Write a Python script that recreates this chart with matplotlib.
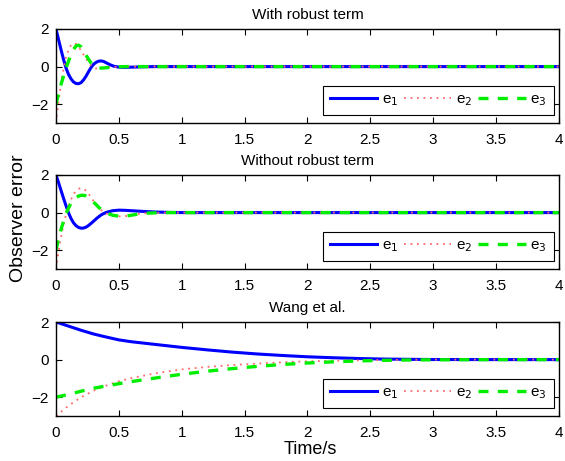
import matplotlib
matplotlib.use("Agg")
import matplotlib.pyplot as plt

plt.rcParams['font.family'] = ['Liberation Sans', 'DejaVu Sans']

# ---- data ----
t1 = [0, 0.02, 0.04, 0.06, 0.08, 0.1, 0.12, 0.14, 0.16, 0.18, 0.2, 0.22, 0.24, 0.26,
      0.28, 0.3, 0.32, 0.34, 0.36, 0.38, 0.4, 0.43, 0.46, 0.5, 0.55, 0.6, 0.7, 0.8, 1.0, 4.0]
e1_robust = [2.0, 1.45, 0.9, 0.38, -0.08, -0.42, -0.66, -0.82, -0.9, -0.91, -0.85, -0.7, -0.5,
             -0.26, -0.04, 0.13, 0.23, 0.29, 0.3, 0.27, 0.2, 0.1, 0.02, -0.03, -0.04, -0.03,
             -0.01, 0, 0, 0]
e2_robust = [-3.0, -1.9, -0.9, -0.1, 0.5, 0.9, 1.15, 1.25, 1.2, 1.05, 0.85, 0.62, 0.4, 0.2,
             0.05, -0.05, -0.1, -0.1, -0.09, -0.07, -0.05, -0.03, -0.02, -0.01, 0, 0, 0, 0, 0, 0]
e3_robust = [-2.0, -1.45, -0.95, -0.5, -0.08, 0.3, 0.65, 0.92, 1.1, 1.14, 1.05, 0.85, 0.6, 0.38,
             0.18, 0.04, -0.04, -0.07, -0.08, -0.07, -0.06, -0.04, -0.02, -0.01, 0, 0, 0, 0, 0, 0]

t2 = [0, 0.02, 0.04, 0.06, 0.08, 0.1, 0.12, 0.14, 0.16, 0.18, 0.2, 0.22, 0.24, 0.26, 0.28,
      0.3, 0.32, 0.34, 0.36, 0.38, 0.4, 0.45, 0.5, 0.55, 0.6, 0.65, 0.7, 0.8, 0.9, 1.0, 4.0]
e1_plain = [2.0, 1.6, 1.18, 0.76, 0.36, -0.02, -0.32, -0.55, -0.7, -0.79, -0.83, -0.82, -0.77,
            -0.68, -0.57, -0.45, -0.33, -0.22, -0.12, -0.05, 0.01, 0.1, 0.13, 0.12, 0.1, 0.08,
            0.06, 0.03, 0.01, 0, 0]
e2_plain = [-3.0, -2.1, -1.3, -0.65, -0.1, 0.35, 0.7, 0.98, 1.16, 1.27, 1.3, 1.27, 1.16, 1.0,
            0.8, 0.6, 0.42, 0.26, 0.13, 0.03, -0.05, -0.16, -0.2, -0.19, -0.14, -0.08, -0.04,
            -0.01, 0, 0, 0]
e3_plain = [-2.0, -1.4, -0.9, -0.45, -0.05, 0.25, 0.5, 0.68, 0.8, 0.88, 0.92, 0.92, 0.88, 0.8,
            0.68, 0.55, 0.42, 0.28, 0.16, 0.06, -0.02, -0.14, -0.19, -0.19, -0.14, -0.08, -0.04,
            -0.01, 0, 0, 0]

t3 = [0, 0.1, 0.2, 0.3, 0.4, 0.5, 0.6, 0.8, 1.0, 1.2, 1.4, 1.6, 1.8, 2.0, 2.2, 2.4, 2.6,
      2.8, 3.0, 3.5, 4.0]
e1_wang = [2.0, 1.78, 1.56, 1.36, 1.2, 1.05, 0.95, 0.8, 0.65, 0.52, 0.4, 0.3, 0.22, 0.15,
           0.1, 0.06, 0.03, 0.015, 0.005, 0, 0]
e2_wang = [-3.0, -2.45, -2.0, -1.65, -1.38, -1.15, -0.98, -0.72, -0.52, -0.39, -0.29, -0.21,
           -0.14, -0.09, -0.06, -0.04, -0.02, -0.01, 0, 0, 0]
e3_wang = [-2.0, -1.85, -1.68, -1.52, -1.4, -1.28, -1.17, -0.97, -0.78, -0.62, -0.48, -0.36,
           -0.26, -0.18, -0.12, -0.07, -0.04, -0.02, -0.01, 0, 0]

titles = ["With robust term", "Without robust term", "Wang et al."]
panels = [(t1, e1_robust, e2_robust, e3_robust),
          (t2, e1_plain, e2_plain, e3_plain),
          (t3, e1_wang, e2_wang, e3_wang)]
xticks = [0, 0.5, 1, 1.5, 2, 2.5, 3, 3.5, 4]
xticklabels = ["0", "0.5", "1", "1.5", "2", "2.5", "3", "3.5", "4"]
yticks = [-2, 0, 2]

fig = plt.figure(figsize=(5.65, 4.61), dpi=100)
bottoms = [0.7332, 0.4165, 0.0976]

for (t, a, b, c), title, bot in zip(panels, titles, bottoms):
    ax = fig.add_axes([0.0991, bot, 0.890, 0.2039])
    ax.plot(t, a, color='#0000ff', lw=2.2, label='e$_1$')
    ax.plot(t, b, color='#ff6a6a', lw=1.3, linestyle=(0, (1, 2.6)), label='e$_2$')
    ax.plot(t, c, color='#00ee00', lw=2.4, linestyle=(0, (3.0, 2.8)), label='e$_3$')
    ax.set_xlim(0, 4)
    ax.set_ylim(-3, 2)
    ax.set_xticks(xticks)
    ax.set_xticklabels(xticklabels)
    ax.set_yticks(yticks)
    ax.set_yticklabels(["\u22122", "0", "2"])
    ax.tick_params(direction='in', top=True, right=True, labelsize=11, length=4, width=0.8)
    ax.tick_params(axis='x', pad=7)
    ax.tick_params(axis='y', pad=5)
    for s in ax.spines.values():
        s.set_linewidth(1.0)
    ax.set_title(title, fontsize=11, pad=7)
    leg = ax.legend(loc='lower right', bbox_to_anchor=(0.990, 0.085), ncol=3, fontsize=11,
                    handlelength=3.1, columnspacing=0.4, handletextpad=0.3,
                    borderaxespad=0, borderpad=0.45, fancybox=False, framealpha=1,
                    edgecolor='black')
    leg.get_frame().set_linewidth(0.8)

fig.text(0.032, 0.527, "Observer error", rotation=90, fontsize=14, ha='center', va='center')
fig.text(0.549, 0.026, "Time/s", fontsize=13, ha='center', va='center')

fig.savefig("out.png", dpi=100)
